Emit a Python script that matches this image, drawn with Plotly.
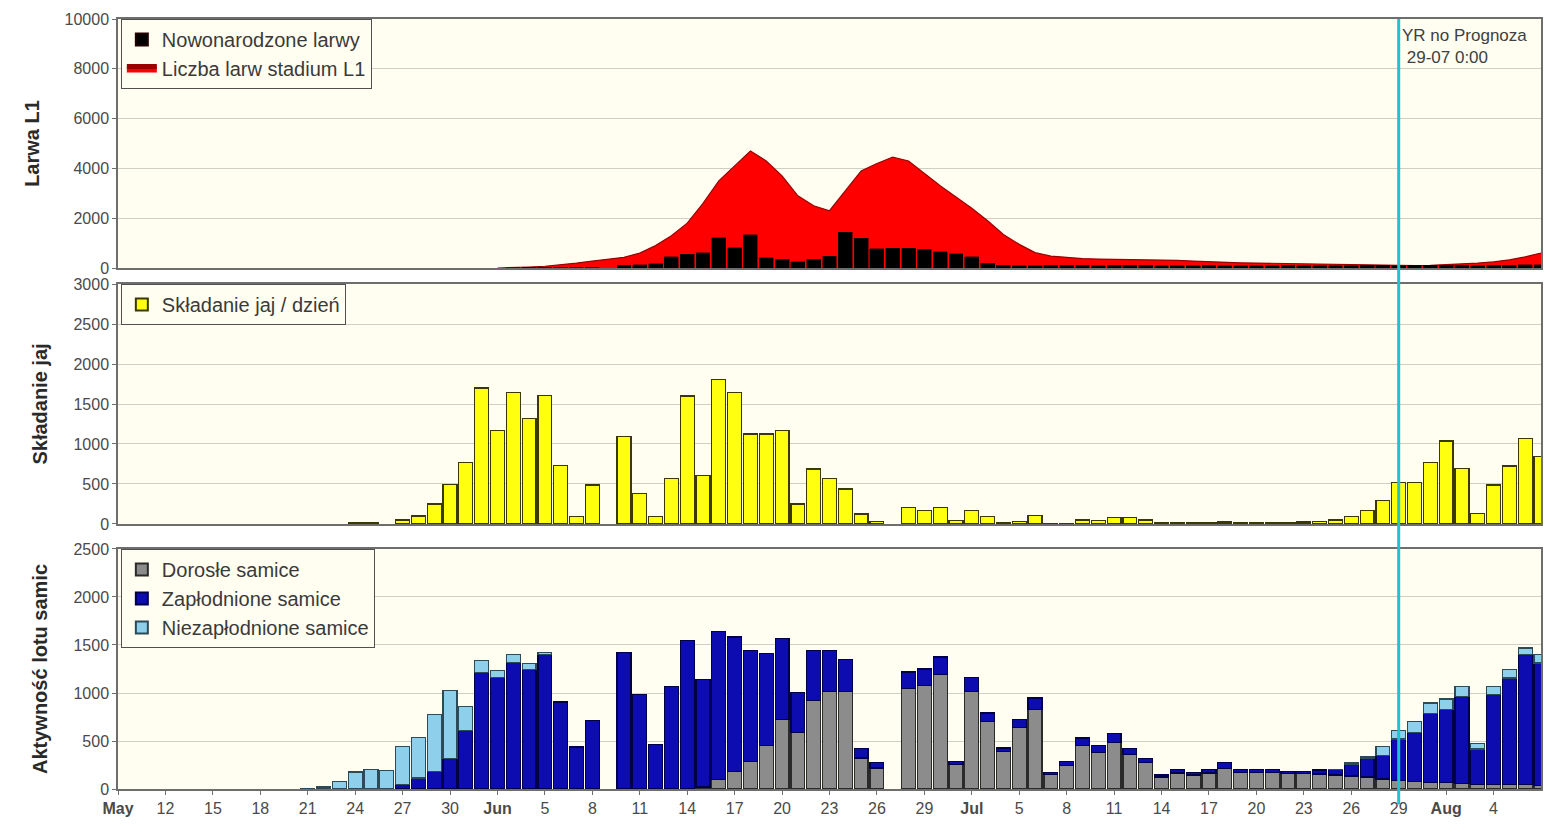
import pandas as pd
import plotly.graph_objects as go

# ---------------- data (one value per day, May 9 .. Aug 7) ----------------
start_date = "2013-05-09"
end_date = "2013-08-07"

# Liczba larw stadium L1 (red area)
l1_may = [None] * 23
l1_jun = [None, 0, 10, 40, 70, 120, 200, 280, 350, 430, 600, 900, 1300, 1800, 2600,
          3500, 4100, 4700, 4300, 3700, 2900, 2500, 2300, 3100, 3900, 4200, 4450, 4300, 3800, 3300]
l1_jul = [2850, 2400, 1900, 1350, 950, 620, 480, 420, 380, 360, 350, 360, 360, 340, 310,
          280, 250, 230, 210, 200, 190, 180, 170, 150, 130, 110, 100, 90, 90, 100, 110]
l1_aug = [130, 160, 200, 250, 330, 450, 600]

# Nowonarodzone larwy (black bars)
new_may = [0] * 23
new_jun = [0, 0, 20, 40, 40, 40, 30, 30, 0, 120, 130, 180, 450, 560, 620,
           1220, 810, 1330, 420, 350, 260, 350, 470, 1440, 1200, 780, 790, 790, 760, 650]
new_jul = [580, 450, 200, 110, 100, 100, 110, 110, 110, 100, 110, 110, 110, 100, 90,
           100, 110, 100, 90, 90, 100, 110, 100, 90, 90, 100, 110, 110, 100, 110, 110]
new_aug = [110, 110, 100, 110, 120, 130, 140]

# Skladanie jaj / dzien (yellow bars)
egg_may = [0] * 15 + [15, 15, 0, 50, 100, 250, 490, 770]
egg_jun = [1700, 1170, 1645, 1320, 1605, 728, 92, 487, 0, 1090, 385, 92, 571, 1600, 604,
           1810, 1645, 1125, 1125, 1166, 250, 687, 571, 437, 125, 35, 0, 208, 167, 208]
egg_jul = [42, 167, 92, 17, 30, 104, 8, 10, 50, 42, 85, 85, 50, 15, 12,
           12, 15, 25, 15, 12, 12, 20, 25, 35, 50, 92, 167, 290, 521, 521, 766]
egg_aug = [1037, 696, 133, 487, 725, 1071, 842]

# Dorosle samice (grey)
adult_may = [0] * 23
adult_jun = [0] * 14 + [20, 97, 184, 288, 451, 722, 590, 924, 1018, 1018, 323, 219, 0, 1045, 1080, 1191]
adult_jul = [253, 1018, 705, 392, 642, 826, 149, 243, 451, 382, 486, 360, 280, 125, 167,
             145, 167, 215, 170, 170, 170, 160, 160, 156, 146, 135, 125, 105, 90, 80, 70]
adult_aug = [70, 60, 50, 50, 50, 50, 40]

# Zaplodnione samice (blue)
fert_may = [0] * 15 + [5, 5, 5, 45, 115, 184, 316, 611]
fert_jun = [1210, 1160, 1315, 1243, 1400, 906, 437, 715, 0, 1424, 982, 462, 1069, 1549, 1120,
            1545, 1400, 1157, 959, 845, 417, 521, 427, 330, 97, 59, 0, 174, 170, 184]
fert_jul = [35, 145, 87, 35, 80, 122, 25, 45, 80, 75, 94, 60, 40, 20, 38,
            27, 38, 60, 35, 35, 35, 22, 22, 42, 55, 120, 190, 245, 430, 510, 720]
fert_aug = [756, 905, 367, 933, 1106, 1349, 1272]

# Niezaplodnione samice (light blue)
unfert_may = [0] * 12 + [5, 20, 80, 172, 200, 190, 400, 423, 590, 712, 250]
unfert_jun = [130, 75, 85, 63, 20] + [0] * 25
unfert_jul = [0] * 24 + [5, 15, 18, 90, 90, 115, 105]
unfert_aug = [112, 105, 55, 87, 87, 70, 87]

# x tick labels (every 3 days from May 9)
tick_labels = ["<b>May</b>", "12", "15", "18", "21", "24", "27", "30",
               "<b>Jun</b>", "5", "8", "11", "14", "17", "20", "23", "26", "29",
               "<b>Jul</b>", "5", "8", "11", "14", "17", "20", "23", "26", "29",
               "<b>Aug</b>", "4"]
forecast_date = "2013-07-29"
forecast_text = "YR no Prognoza<br>\u00a029-07 0:00"

# ---------------- build ----------------
def nz(v):
    # days without a value draw no bar
    return [None if (a is None or a == 0) else a for a in v]

dates = pd.date_range(start_date, end_date, freq="D")
l1 = l1_may + l1_jun + l1_jul + l1_aug
newborn = nz(new_may + new_jun + new_jul + new_aug)
eggs = nz(egg_may + egg_jun + egg_jul + egg_aug)
adult = nz(adult_may + adult_jun + adult_jul + adult_aug)
fert = nz(fert_may + fert_jun + fert_jul + fert_aug)
unfert = nz(unfert_may + unfert_jun + unfert_jul + unfert_aug)
tick_vals = pd.date_range(start_date, periods=len(tick_labels), freq="3D")

BAR_W = 0.88 * 86400000
FONT = "Liberation Sans, Arial, sans-serif"
BG = "#FFFEF0"

fig = go.Figure()

fig.add_trace(go.Scatter(
    x=dates, y=l1, mode="lines", fill="tozeroy", name="Liczba larw stadium L1",
    line=dict(color="#9A0000", width=1.2), fillcolor="#FF0000",
    xaxis="x", yaxis="y", legend="legend", legendrank=2, connectgaps=False))
fig.add_trace(go.Bar(
    x=dates, y=newborn, name="Nowonarodzone larwy", width=BAR_W,
    marker=dict(color="#000000", line=dict(color="#200000", width=0.5)),
    xaxis="x", yaxis="y4", legend="legend", legendrank=1))

fig.add_trace(go.Bar(
    x=dates, y=eggs, name="Składanie jaj / dzień", width=BAR_W,
    marker=dict(color="#FFFF10", line=dict(color="#3A3A00", width=1.2)),
    xaxis="x2", yaxis="y2", legend="legend2"))

fig.add_trace(go.Bar(
    x=dates, y=adult, name="Dorosłe samice", width=BAR_W,
    marker=dict(color="#8C8C8C", line=dict(color="#2A2A2A", width=1.2)),
    xaxis="x3", yaxis="y3", legend="legend3"))
fig.add_trace(go.Bar(
    x=dates, y=fert, name="Zapłodnione samice", width=BAR_W,
    marker=dict(color="#0C0CB0", line=dict(color="#00004A", width=1.2)),
    xaxis="x3", yaxis="y3", legend="legend3"))
fig.add_trace(go.Bar(
    x=dates, y=unfert, name="Niezapłodnione samice", width=BAR_W,
    marker=dict(color="#8ED0EC", line=dict(color="#2C4A58", width=1.2)),
    xaxis="x3", yaxis="y3", legend="legend3"))

xr = [pd.Timestamp(start_date), pd.Timestamp(end_date)]
axis_line = dict(showline=True, linecolor="#6E6E6E", linewidth=1.5, mirror=True,
                 automargin=False)
tickfont = dict(family=FONT, size=16, color="#4A4A4A")

common_x = dict(type="date", range=xr, showgrid=False, zeroline=False, **axis_line)
fig.update_layout(
    xaxis=dict(anchor="y", showticklabels=False, ticks="", **common_x),
    xaxis2=dict(anchor="y2", showticklabels=False, ticks="", **common_x),
    xaxis3=dict(anchor="y3", tickmode="array", tickvals=tick_vals, ticktext=tick_labels,
                ticks="outside", ticklen=4, tickcolor="#6E6E6E", tickfont=tickfont,
                **common_x),
)

def yax(domain, rng, dtick, title, anchor):
    return dict(domain=domain, range=rng, dtick=dtick, tick0=0, anchor=anchor,
                tickformat="d",
                showgrid=True, gridcolor="#CFCFC6", gridwidth=1, zeroline=False,
                ticks="outside", ticklen=4, tickcolor="#6E6E6E", tickfont=tickfont,
                title=dict(text="<b>" + title + "</b>",
                           font=dict(family=FONT, size=20, color="#2A2A2A"), standoff=20),
                **axis_line)

fig.update_layout(
    yaxis=yax([0.6766, 1.0], [0, 10000], 2000, "Larwa L1", "x"),
    yaxis2=yax([0.3442, 0.6558], [0, 3000], 500, "Składanie jaj", "x2"),
    yaxis3=yax([0.0, 0.3117], [0, 2500], 500, "Aktywność lotu samic", "x3"),
    yaxis4=dict(overlaying="y", range=[0, 10000], visible=False, anchor="x",
                automargin=False),
)

legend_style = dict(bgcolor=BG, bordercolor="#505050", borderwidth=1,
                    font=dict(family=FONT, size=20, color="#3A3A3A"),
                    xanchor="left", yanchor="top", x=0.002, itemsizing="constant",
                    tracegroupgap=0, traceorder="normal")
fig.update_layout(
    legend=dict(y=1.0, **legend_style),
    legend2=dict(y=0.6558, **legend_style),
    legend3=dict(y=0.3117, **legend_style),
)

fig.add_shape(type="line", xref="x3", x0=forecast_date, x1=forecast_date,
              yref="paper", y0=-0.02, y1=1.0, line=dict(color="#1FC3CC", width=3),
              layer="above")
fig.add_annotation(x=forecast_date, xref="x", y=0.994, yref="paper",
                   xanchor="left", yanchor="top", xshift=1, align="left",
                   text=forecast_text, showarrow=False,
                   font=dict(family=FONT, size=17, color="#404040"))

# page body has an 8px margin, so the figure is 8px smaller than the window
fig.update_layout(
    width=1552, height=824, barmode="stack", showlegend=True,
    plot_bgcolor=BG, paper_bgcolor="#FFFFFF",
    margin=dict(l=110, r=19, t=11, b=43),
    font=dict(family=FONT),
)

fig.write_html("out.html")
